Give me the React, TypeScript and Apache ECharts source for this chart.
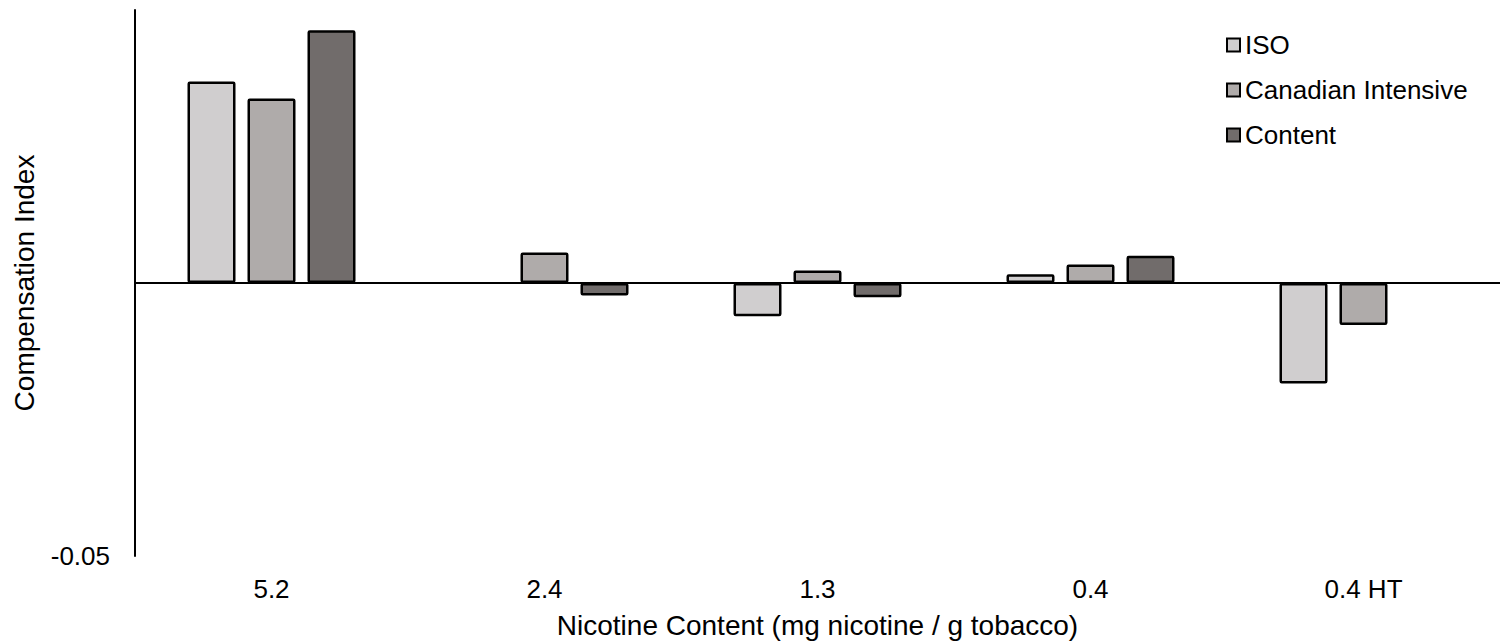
import React, { useEffect, useRef } from "react";
import * as echarts from "echarts";

const categories = ["5.2", "2.4", "1.3", "0.4", "0.4 HT"];
const isoValues = [0.0369, null, -0.0061, 0.0016, -0.0184];
const canadianValues = [0.0338, 0.0056, 0.0023, 0.0034, -0.0077];
const contentValues = [0.0463, -0.0023, -0.0026, 0.005, null];
const seriesNames = ["ISO", "Canadian Intensive", "Content"];
const seriesColors = ["#d0cecf", "#afabaa", "#716c6b"];
const yMin = -0.05;
const yMax = 0.05;
const yInterval = 0.05;

export default function App() {
  const ref = useRef<HTMLDivElement>(null);
  useEffect(() => {
    if (!ref.current) return;
    const chart = echarts.init(ref.current, undefined, { renderer: "svg" });
    const font = "Liberation Sans, Arial, sans-serif";
    const data = [isoValues, canadianValues, contentValues];
    const series: any[] = data.map((vals, i) => ({
      name: seriesNames[i],
      type: "bar",
      data: vals,
      barWidth: 48,
      barGap: "25%",
      itemStyle: {
        color: seriesColors[i],
        borderColor: "#000",
        borderWidth: 2.5,
        borderRadius: 1,
      },
      ...(i === 0
        ? {
            markLine: {
              silent: true,
              symbol: ["none", "none"],
              label: { show: false },
              lineStyle: { color: "#000", width: 2, type: "solid" },
              data: [{ yAxis: 0 }],
            },
          }
        : {}),
    }));
    chart.setOption({
      animation: false,
      backgroundColor: "#fff",
      textStyle: { fontFamily: font },
      grid: {
        left: 135,
        right: 1,
        top: 10,
        bottom: 87,
        containLabel: false,
        outerBoundsMode: "none",
      },
      legend: {
        orient: "vertical",
        left: 1221,
        top: 27,
        icon: "rect",
        itemWidth: 13,
        itemHeight: 13,
        itemGap: 19,
        itemStyle: { borderColor: "#000", borderWidth: 2 },
        textStyle: { fontSize: 26, color: "#000", fontFamily: font },
        data: seriesNames,
      },
      xAxis: {
        type: "category",
        data: categories,
        axisLine: { show: false, onZero: false },
        axisTick: { show: false },
        axisLabel: { fontSize: 26, color: "#000", margin: 20 },
        name: "Nicotine Content (mg nicotine / g tobacco)",
        nameLocation: "middle",
        nameGap: 55,
        nameTextStyle: { fontSize: 28, color: "#000" },
      },
      yAxis: {
        type: "value",
        min: yMin,
        max: yMax,
        interval: yInterval,
        axisLine: { show: true, lineStyle: { color: "#000", width: 2 } },
        axisTick: { show: false },
        splitLine: { show: false },
        axisLabel: {
          fontSize: 26,
          color: "#000",
          margin: 25,
          formatter: (v: number) => (Math.abs(v - yMin) < 1e-9 ? "-0.05" : ""),
        },
        name: "Compensation Index",
        nameLocation: "middle",
        nameGap: 97,
        nameTextStyle: { fontSize: 28, color: "#000" },
      },
      series,
    });
    return () => chart.dispose();
  }, []);
  return (
    <div
      ref={ref}
      style={{ position: "fixed", left: 0, top: 0, width: 1501, height: 643 }}
    />
  );
}
